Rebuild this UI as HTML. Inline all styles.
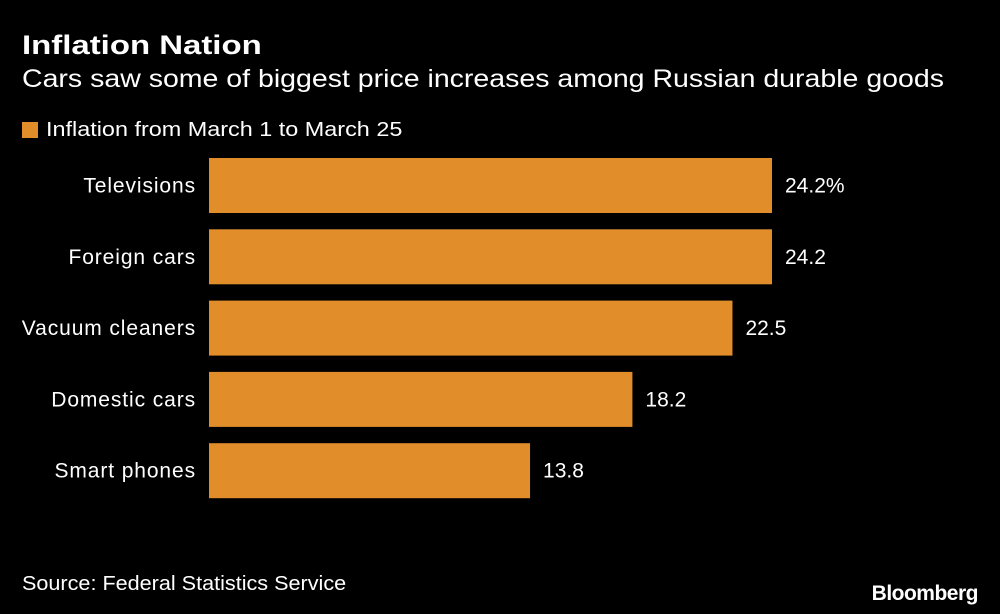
<!DOCTYPE html>
<html><head><meta charset="utf-8"><style>
body{margin:0;background:#000;width:1000px;height:614px;overflow:hidden;font-family:"Liberation Sans",sans-serif;color:#fff}
.t{position:absolute;white-space:nowrap;transform-origin:left top}
</style></head><body>
<div class="t" style="left:22px;top:30px;font-size:27px;font-weight:bold;transform:scaleX(1.22)">Inflation Nation</div>
<div class="t" style="left:22px;top:65px;font-size:25px;transform:scaleX(1.14)">Cars saw some of biggest price increases among Russian durable goods</div>
<div class="t" style="left:22px;top:119px;font-size:20px"><span style="display:inline-block;width:16px;height:16px;background:#E08D2A;vertical-align:-2px;margin-right:8px"></span><span style="display:inline-block;transform:scaleX(1.17);transform-origin:left">Inflation from March 1 to March 25</span></div>
<svg id="c" width="1000" height="614" style="position:absolute;left:0;top:0"></svg>
<div class="t" style="left:22px;top:573px;font-size:20px;transform:scaleX(1.08)">Source: Federal Statistics Service</div>
<div class="t" style="right:22px;top:582px;font-size:21px;font-weight:bold;letter-spacing:-0.5px">Bloomberg</div>
<script>
const categories=["Televisions","Foreign cars","Vacuum cleaners","Domestic cars","Smart phones"];
const values=[24.2,24.2,22.5,18.2,13.8];
const valueLabels=["24.2%","24.2","22.5","18.2","13.8"];
const svg=document.getElementById('c');const NS='http://www.w3.org/2000/svg';
const x0=209,pxPer=563/24.2,top0=158,pitch=71.3,bh=55;
const xs=v=>x0+v*pxPer;
categories.forEach((c,i)=>{
 const y=top0+i*pitch;
 const r=document.createElementNS(NS,'rect');
 r.setAttribute('x',x0);r.setAttribute('y',y);r.setAttribute('width',xs(values[i])-x0);r.setAttribute('height',bh);r.setAttribute('fill','#E08D2A');
 
 
 svg.appendChild(r);
 const l=document.createElementNS(NS,'text');
 l.setAttribute('x',196);l.setAttribute('y',y+bh/2+7);l.setAttribute('text-anchor','end');l.setAttribute('fill','#fff');l.setAttribute('font-size','21');l.setAttribute('letter-spacing','0.9');l.setAttribute('font-family','Liberation Sans, sans-serif');l.textContent=c;
 
 
 svg.appendChild(l);
 const v=document.createElementNS(NS,'text');
 v.setAttribute('x',xs(values[i])+13);v.setAttribute('y',y+bh/2+7);v.setAttribute('fill','#fff');v.setAttribute('font-size','21');v.setAttribute('font-family','Liberation Sans, sans-serif');v.textContent=valueLabels[i];
 
 
 svg.appendChild(v);
});
</script>
</body></html>
